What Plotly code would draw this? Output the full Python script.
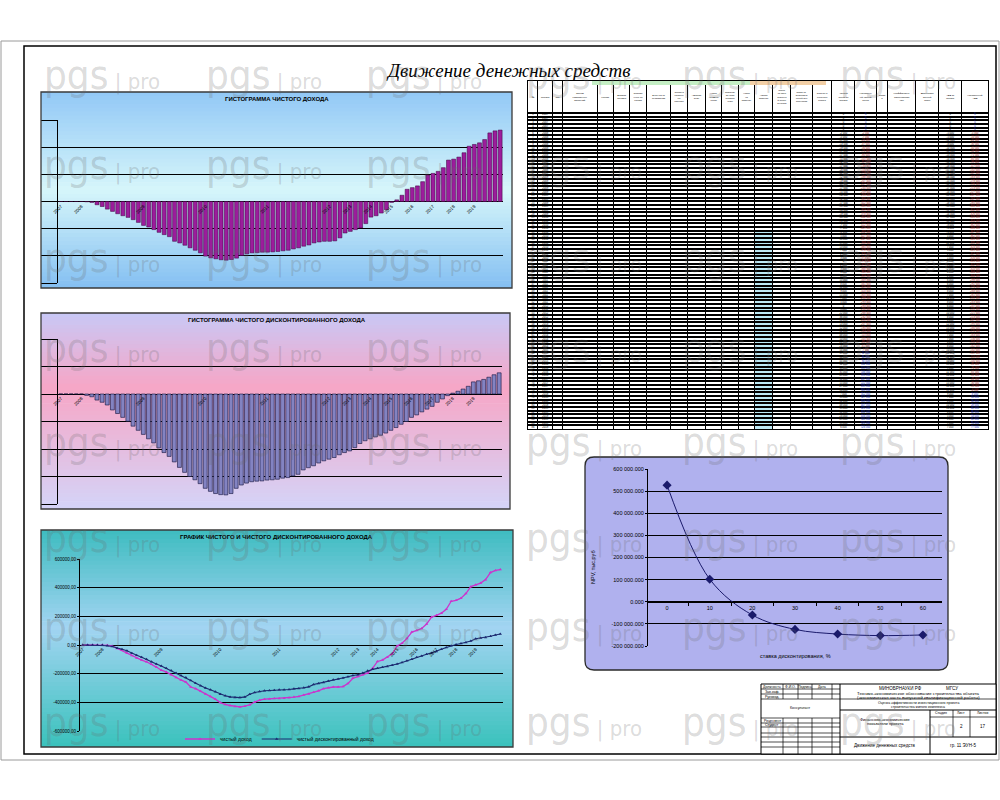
import textwrap
import numpy as np
import plotly.graph_objects as go

W, H = 1000, 800


def px(x):
    return x / W


def py(y):
    return 1 - y / H


# ---- data ----
year_labels = ["2007", "2008", "2009", "2010", "2011", "2012", "2013",
               "2014", "2015", "2016", "2017", "2018", "2019"]
year_ticks = [0, 4, 16, 28, 40, 52, 56, 60, 64, 68, 72, 76, 80]

# cumulative net income, thousand rub
net_income = [0, 0, 0, 0, 0, -2000, -7000, -24000, -37000, -56000,
              -73000, -90000, -105000, -117000, -134000, -154000, -176000, -188000, -207000, -227000,
              -244000, -259000, -293000, -305000, -322000, -341000, -359000, -378000, -402000, -415000,
              -422000, -429000, -432000, -427000, -417000, -398000, -385000, -378000, -376000, -373000,
              -373000, -371000, -368000, -363000, -359000, -349000, -341000, -329000, -320000, -305000,
              -298000, -293000, -293000, -290000, -268000, -232000, -220000, -207000, -195000, -163000,
              -115000, -105000, -85000, -61000, -7000, 12000, 46000, 90000, 102000, 115000,
              146000, 195000, 207000, 222000, 249000, 305000, 312000, 327000, 359000, 407000,
              420000, 432000, 456000, 505000, 520000, 526000]

# cumulative discounted net income, thousand rub
disc_income = [0, 0, 0, 0, 0, -5000, -10000, -22000, -30000, -40000,
               -58000, -71000, -85000, -99000, -117000, -132000, -147000, -163000, -178000, -196000,
               -213000, -227000, -247000, -267000, -285000, -300000, -312000, -326000, -343000, -354000,
               -362000, -366000, -367000, -362000, -343000, -331000, -324000, -319000, -317000, -316000,
               -313000, -312000, -310000, -306000, -304000, -298000, -292000, -276000, -268000, -261000,
               -251000, -243000, -237000, -231000, -221000, -213000, -207000, -195000, -180000, -170000,
               -163000, -156000, -150000, -142000, -132000, -122000, -110000, -100000, -85000, -76000,
               -65000, -55000, -45000, -30000, -18000, -6000, 3000, 10000, 18000, 28000,
               44000, 48000, 53000, 61000, 70000, 77000]

npv_rates = ["0", "10", "20", "30", "40", "50", "60"]
npv_values = [527000, 102000, -60000, -125000, -146000, -153000, -150000]

periods = list(range(len(net_income)))

FONT = "Liberation Sans, Arial, sans-serif"


# ---- helpers for the drawing sheet ----
def hex_rgb(h):
    h = h.lstrip("#")
    return [int(h[i:i + 2], 16) for i in (0, 2, 4)]


def band_color(stops, t):
    for (t0, c0), (t1, c1) in zip(stops[:-1], stops[1:]):
        if t0 <= t <= t1:
            f = (t - t0) / (t1 - t0)
            a, b = hex_rgb(c0), hex_rgb(c1)
            return "rgb({},{},{})".format(*[round(a[k] + (b[k] - a[k]) * f) for k in range(3)])
    return stops[-1][1]


def gradient_box(x0, y0, x1, y1, stops, n=50):
    out = []
    step = (y1 - y0) / n
    for k in range(n):
        out.append(dict(type="rect", xref="paper", yref="paper", layer="below",
                        x0=px(x0), x1=px(x1), y0=py(y0 + k * step),
                        y1=py(min(y1, y0 + (k + 1) * step + 0.7)),
                        fillcolor=band_color(stops, (k + 0.5) / n), line=dict(width=0)))
    out.append(dict(type="rect", xref="paper", yref="paper", layer="above",
                    x0=px(x0), x1=px(x1), y0=py(y1), y1=py(y0),
                    line=dict(color="#3a3a3a", width=1.3)))
    return out


def line(x0, y0, x1, y1, color="black", width=1, layer="above"):
    return dict(type="line", xref="paper", yref="paper", layer=layer,
                x0=px(x0), x1=px(x1), y0=py(y0), y1=py(y1),
                line=dict(color=color, width=width))


def text(x, y, s, size=4, **kw):
    d = dict(x=px(x), y=py(y), xref="paper", yref="paper", text=s, showarrow=False,
             xanchor="center", yanchor="middle",
             font=dict(family=FONT, size=size, color=kw.pop("color", "black")))
    d.update(kw)
    return d


fig = go.Figure()

# chart 1 - net income histogram
fig.add_trace(go.Bar(x=periods, y=net_income, xaxis="x", yaxis="y",
                     marker=dict(color="#9c1c9c", line=dict(color="#3a003a", width=0.5)),
                     showlegend=False))
# chart 2 - discounted income histogram
fig.add_trace(go.Bar(x=periods, y=disc_income, xaxis="x2", yaxis="y2",
                     marker=dict(color="#8383c2", line=dict(color="#10103a", width=0.6)),
                     showlegend=False))
# chart 3 - both lines
fig.add_trace(go.Scatter(x=periods, y=net_income, xaxis="x3", yaxis="y3", mode="lines+markers",
                         name="чистый доход",
                         line=dict(color="#cc33cc", width=1.3),
                         marker=dict(symbol="triangle-up", size=3, color="#cc33cc")))
fig.add_trace(go.Scatter(x=periods, y=disc_income, xaxis="x3", yaxis="y3", mode="lines+markers",
                         name="чистый дисконтированный доход",
                         line=dict(color="#1c2a70", width=1.1),
                         marker=dict(symbol="triangle-up", size=3, color="#1c2a70")))
# chart 4 - NPV vs discount rate
fig.add_trace(go.Scatter(x=npv_rates, y=npv_values, xaxis="x4", yaxis="y4", mode="lines+markers",
                         line=dict(color="#1a1a6b", width=1, shape="spline", smoothing=1),
                         marker=dict(symbol="diamond", size=7, color="#1a1a6b"),
                         showlegend=False))

# ---- cash flow table, drawn on its own grid axes ----
n = len(net_income)
net_step = np.diff(np.array(net_income), prepend=0)
disc_step = np.diff(np.array(disc_income), prepend=0)
year_of = []
for i in periods:
    k = max(j for j, t in enumerate(year_ticks) if t <= i)
    year_of.append(year_labels[k])


def fmt(v):
    return "{:,.0f}".format(v).replace(",", " ")


headers = ["№", "Период", "Год", "Объём капитальных вложений", "Кредит", "Возврат кредита",
           "Собственные средства", "Выручка от реализации", "Эксплуатационные расходы",
           "Амортизация", "Налог на имущество", "Прибыль до налогообложения", "Налог на прибыль",
           "Чистая прибыль", "Поток от операционной деятельности",
           "Поток от инвестиционной деятельности", "Сальдо денежного потока",
           "Чистый доход за период", "Накопленный чистый доход", "Ставка",
           "Коэффициент дисконтирования", "Дисконтированный поток", "ЧДД за период",
           "Накопленный ЧДД"]
col_widths = [30, 45, 30, 105, 50, 50, 50, 75, 50, 55, 50, 50, 50, 55, 55, 65, 60, 70, 65,
              35, 85, 70, 70, 80]
col_bounds = list(np.cumsum([0] + col_widths))
col_centers = [(a + b) / 2 for a, b in zip(col_bounds[:-1], col_bounds[1:])]

TBL_TOP, TBL_BOT, HDR_PX = 81, 429, 32
hdr_rows = HDR_PX / ((TBL_BOT - TBL_TOP - HDR_PX) / n)

cell_cols = {0: [str(i + 1) for i in periods], 1: year_of,
             17: [fmt(v) for v in net_step], 18: [fmt(v) for v in net_income],
             22: [fmt(v) for v in disc_step], 23: [fmt(v) for v in disc_income]}
cell_colors = {18: ["#a02828" if v < 0 else "#2030c0" for v in net_income],
               23: ["#a02828" if v < 0 else "#2030c0" for v in disc_income]}
cx, cy, ct, cc = [], [], [], []
for c, vals in cell_cols.items():
    for i, s in enumerate(vals):
        cx.append(col_centers[c])
        cy.append(i + 0.5)
        ct.append(s)
        cc.append(cell_colors.get(c, ["black"] * n)[i])
fig.add_trace(go.Scatter(x=cx, y=cy, text=ct, mode="text", xaxis="x5", yaxis="y5",
                         textfont=dict(family=FONT, size=2.6, color=cc), showlegend=False,
                         hoverinfo="skip"))
fig.add_trace(go.Scatter(x=col_centers, y=[-hdr_rows / 2] * len(headers),
                         text=["<br>".join(textwrap.wrap(h, max(4, w // 7))) for h, w in
                               zip(headers, col_widths)],
                         mode="text", xaxis="x5", yaxis="y5",
                         textfont=dict(family=FONT, size=2.4, color="black"), showlegend=False,
                         hoverinfo="skip"))

# ---- axes ----
grid = dict(showgrid=True, gridcolor="black", gridwidth=1, zeroline=True,
            zerolinecolor="black", zerolinewidth=1, showline=True, linecolor="black",
            linewidth=1, fixedrange=True)
xcat = dict(showgrid=False, zeroline=False, showline=False, tickvals=year_ticks,
            ticktext=year_labels, tickangle=-45, ticks="",
            tickfont=dict(family=FONT, size=4.5, color="black"), anchor="free",
            range=[-0.55, n - 0.45], fixedrange=True)

fig.update_layout(
    width=W, height=H, margin=dict(l=0, r=0, t=0, b=0, autoexpand=False),
    paper_bgcolor="white", plot_bgcolor="rgba(0,0,0,0)",
    bargap=0.24,
    xaxis=dict(xcat, domain=[px(58), px(503)], position=py(202)),
    yaxis=dict(grid, domain=[py(283), py(120)], range=[-600000, 600000], dtick=200000,
               anchor="x", showticklabels=False, ticks="outside", ticklen=16,
               tickcolor="black"),
    xaxis2=dict(xcat, domain=[px(58), px(502)], position=py(394)),
    yaxis2=dict(grid, domain=[py(504), py(339)], range=[-400000, 200000], dtick=100000,
                anchor="x2", showticklabels=False, ticks="outside", ticklen=16,
                tickcolor="black"),
    xaxis3=dict(xcat, domain=[px(80), px(503)], position=py(645)),
    yaxis3=dict(grid, domain=[py(731), py(559)], range=[-600000, 600000],
                tickvals=[600000, 400000, 200000, 0, -200000, -400000, -600000],
                ticktext=["600000,00", "400000,00", "200000,00", "0,00",
                          "-200000,00", "-400000,00", "-600000,00"],
                tickfont=dict(family=FONT, size=4.5, color="black"), anchor="x3",
                ticks="outside", ticklen=2, tickcolor="black"),
    xaxis4=dict(type="category", domain=[px(648), px(942)], anchor="free", position=py(602),
                showgrid=False, zeroline=False, showline=True, linecolor="black",
                ticks="outside", tickson="boundaries", ticklen=3, tickcolor="black",
                tickfont=dict(family=FONT, size=5.5, color="black"), fixedrange=True),
    yaxis4=dict(grid, domain=[py(646), py(469)], range=[-200000, 600000], anchor="x4",
                tickvals=[600000, 500000, 400000, 300000, 200000, 100000, 0, -100000, -200000],
                ticktext=["600 000.000", "500 000.000", "400 000.000", "300 000.000",
                          "200 000.000", "100 000.000", "0.000", "-100 000.000",
                          "-200 000.000"],
                tickfont=dict(family=FONT, size=5.5, color="black"),
                ticks="outside", ticklen=2, tickcolor="black"),
    xaxis5=dict(domain=[px(528), px(988)], range=[0, col_bounds[-1]], anchor="y5",
                tickvals=col_bounds, showgrid=True, gridcolor="black", gridwidth=1,
                showticklabels=False, ticks="", zeroline=False, showline=True,
                linecolor="black", mirror=True, fixedrange=True),
    yaxis5=dict(domain=[py(TBL_BOT), py(TBL_TOP)], range=[n, -hdr_rows], anchor="x5",
                tickvals=[-hdr_rows] + list(range(n + 1)), showgrid=True, gridcolor="black",
                gridwidth=1.5, showticklabels=False, ticks="", zeroline=False, showline=True,
                linecolor="black", mirror=True, fixedrange=True),
    legend=dict(orientation="h", x=px(180), y=py(739), xanchor="left", yanchor="middle",
                font=dict(family=FONT, size=5, color="black"), bgcolor="rgba(0,0,0,0)",
                itemwidth=30),
)

# ---- sheet decoration ----
shapes = []
shapes.append(dict(type="rect", xref="paper", yref="paper", layer="below",
                   x0=px(1), x1=px(999), y0=py(760), y1=py(41),
                   line=dict(color="#9a9a9a", width=1)))
shapes.append(dict(type="rect", xref="paper", yref="paper", layer="below",
                   x0=px(24), x1=px(996), y0=py(754), y1=py(46),
                   line=dict(color="black", width=1.5)))

shapes += gradient_box(41, 92, 512, 288, [(0, "#92c8f6"), (0.5, "#d6f6fa"), (1, "#84bff2")])
shapes += gradient_box(41, 313, 510, 509, [(0, "#c8c8f6"), (0.38, "#f7a6c6"), (1, "#d4d4f8")])
shapes += gradient_box(41, 530, 513, 747, [(0, "#3ebcc0"), (0.45, "#a2d4f2"), (1, "#3ac2bc")])

# rounded frame of the NPV chart
x0, x1, y0, y1, r = 585, 948, 457, 670, 9
path = ("M {a},{b} L {c},{b} Q {d},{b} {d},{e} L {d},{f} Q {d},{g} {c},{g} "
        "L {a},{g} Q {h},{g} {h},{f} L {h},{e} Q {h},{b} {a},{b} Z").format(
    a=px(x0 + r), b=py(y0), c=px(x1 - r), d=px(x1), e=py(y0 + r), f=py(y1 - r),
    g=py(y1), h=px(x0))
shapes.append(dict(type="path", path=path, xref="paper", yref="paper", layer="below",
                   fillcolor="#b0b1ee", line=dict(color="#2a2a2a", width=1.3)))

# coloured cells and header bands of the table
shapes.append(dict(type="rect", xref="x5", yref="y5", layer="below",
                   x0=col_bounds[13], x1=col_bounds[14], y0=32, y1=n,
                   fillcolor="#bdeaf6", line=dict(width=0)))
shapes.append(dict(type="rect", xref="paper", yref="paper", layer="above",
                   x0=px(592), x1=px(750), y0=py(85), y1=py(81),
                   fillcolor="#c4eec4", line=dict(width=0)))
shapes.append(dict(type="rect", xref="paper", yref="paper", layer="above",
                   x0=px(750), x1=px(826), y0=py(85), y1=py(81),
                   fillcolor="#f2cfa6", line=dict(width=0)))

# title block
sx0, sx1, sy0, sy1 = 761, 996, 684, 754
shapes.append(dict(type="rect", xref="paper", yref="paper", layer="above",
                   x0=px(sx0), x1=px(sx1), y0=py(sy1), y1=py(sy0),
                   fillcolor="white", line=dict(color="black", width=1)))
for yy in [689, 694, 699, 718, 723, 727, 733, 737, 742, 747]:
    shapes.append(line(sx0, yy, 840, yy, width=0.7))
for xx in [783, 798, 812, 832]:
    shapes.append(line(xx, sy0, xx, 699, width=0.7))
    shapes.append(line(xx, 718, xx, sy1, width=0.7))
shapes.append(line(840, sy0, 840, sy1))
shapes.append(line(840, 699, sx1, 699, width=0.7))
shapes.append(line(840, 710, sx1, 710))
shapes.append(line(840, 737, sx1, 737))
shapes.append(line(930, 710, 930, sy1))
shapes.append(line(930, 717, sx1, 717, width=0.7))
shapes.append(line(953, 710, 953, 737, width=0.7))
shapes.append(line(970, 710, 970, 737, width=0.7))

ann = []
ann.append(text(508, 70, "Движение денежных средств", size=19,
                font=dict(family="Liberation Serif, serif", size=19, color="black",
                          style="italic")))
title_font = dict(family=FONT, size=6, color="black", weight="bold")
ann.append(text(277, 99, "ГИСТОГРАММА ЧИСТОГО ДОХОДА", font=title_font))
ann.append(text(277, 320, "ГИСТОГРАММА ЧИСТОГО ДИСКОНТИРОВАННОГО ДОХОДА", font=title_font))
ann.append(text(276, 537, "ГРАФИК ЧИСТОГО И ЧИСТОГО ДИСКОНТИРОВАННОГО ДОХОДА", font=title_font))
ann.append(text(593, 567, "NPV, тыс.руб", size=5.5, textangle=-90))
ann.append(text(795, 656, "ставка дисконтирования, %", size=5.5))

for (xx, yy, s) in [(772, 687, "Должность"), (790, 687, "Ф.И.О."), (805, 687, "Подпись"),
                    (822, 687, "Дата"), (772, 692, "Зав.каф."), (772, 697, "Руковод."),
                    (800, 708, "Консультант"), (772, 721, "Рецензент"), (772, 725, "Студент")]:
    ann.append(text(xx, yy, s, size=3.5))
ann.append(text(918, 688, "МИНОБРНАУКИ РФ                    МГСУ", size=4.5))
ann.append(text(918, 693, "Технико-экономическое обоснование строительства объекта", size=4.3))
ann.append(text(918, 697, "(экономическая часть выпускной квалификационной работы)", size=4.3))
ann.append(text(918, 703, "Оценка эффективности инвестиционного проекта", size=3.5))
ann.append(text(918, 707, "строительства жилого комплекса", size=3.5))
ann.append(text(885, 719, "Финансово-экономические", size=4))
ann.append(text(885, 723, "показатели проекта", size=4))
ann.append(text(941, 713, "Стадия", size=3.5))
ann.append(text(961, 713, "Лист", size=3.5))
ann.append(text(983, 713, "Листов", size=3.5))
ann.append(text(961, 726, "2", size=4.5))
ann.append(text(983, 726, "17", size=4.5))
ann.append(text(885, 745, "Движение денежных средств", size=4.5))
ann.append(text(963, 745, "гр. 11 ЭУН-5", size=4.5))

# watermark grid
for yy in [75, 165, 258, 348, 442, 538, 627, 722]:
    for xx in [42, 204, 364, 524, 680, 838]:
        ann.append(dict(x=px(xx), y=py(yy), xref="paper", yref="paper", showarrow=False,
                        xanchor="left", yanchor="middle",
                        text="pgs<span style='font-size:22px'> | pro</span>",
                        font=dict(family="Liberation Sans Narrow, DejaVu Sans Condensed, sans-serif",
                                  size=40, color="rgba(105,105,105,0.24)")))

fig.update_layout(shapes=shapes, annotations=ann)
# the page body keeps its default 8px margin otherwise, which shifts the sheet
fig.write_html("out.html", config={"displayModeBar": False},
               post_script="document.body.style.margin = '0';")
